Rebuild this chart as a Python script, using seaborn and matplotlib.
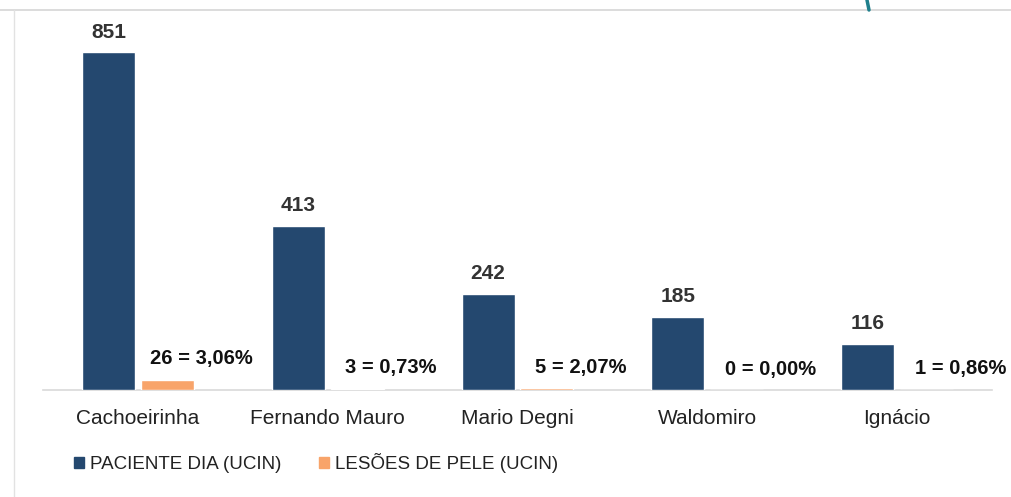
import pandas as pd
import seaborn as sns
import matplotlib.pyplot as plt
from matplotlib.lines import Line2D

# Dados do gráfico (UCIN)
unidades = ['Cachoeirinha', 'Fernando Mauro', 'Mario Degni', 'Waldomiro', 'Ignácio']
paciente_dia = [851, 413, 242, 185, 116]
lesoes_pele = [26, 3, 5, 0, 1]
series = ['PACIENTE DIA (UCIN)', 'LESÕES DE PELE (UCIN)']

azul = '#24486F'
laranja = '#F8A46A'

df = pd.DataFrame({
    'unidade': unidades * 2,
    'serie': [series[0]] * len(unidades) + [series[1]] * len(unidades),
    'valor': paciente_dia + lesoes_pele,
})

sns.set_style('white')
plt.rcParams['font.family'] = ['Liberation Sans', 'DejaVu Sans']

fig = plt.figure(figsize=(10.11, 4.97), dpi=100)
W, H = 1011, 497
ax = fig.add_axes([43 / W, 107 / H, 949 / W, 370 / H])

sns.barplot(data=df, x='unidade', y='valor', hue='serie', palette=[azul, laranja],
            width=0.62, gap=0.1, saturation=1, ax=ax, legend=False)

ax.set_xlim(-0.5, 4.5)
ax.set_ylim(0, 851 * 370 / 338)
ax.set_xlabel('')
ax.set_ylabel('')
ax.set_yticks([])
for s in ['top', 'left', 'right']:
    ax.spines[s].set_visible(False)
ax.spines['bottom'].set_color('#D9D9D9')
ax.spines['bottom'].set_linewidth(1.2)
ax.spines['bottom'].set_zorder(0.5)
ax.tick_params(axis='x', length=0, pad=14, labelsize=15, labelcolor='#222222')

# rótulos das barras azuis
for bar, v in zip(ax.containers[0], paciente_dia):
    ax.annotate(str(v), (bar.get_x() + bar.get_width() / 2, bar.get_height()),
                xytext=(0, 20), textcoords='offset pixels', ha='center', va='center',
                fontsize=15, fontweight='bold', color='#333333')

# rótulos das barras laranja: quantidade = percentual
for bar, les, pac in zip(ax.containers[1], lesoes_pele, paciente_dia):
    pct = f'{les / pac * 100:.2f}'.replace('.', ',')
    ax.annotate(f'{les} = {pct}%', (bar.get_x() + bar.get_width() / 2, bar.get_height()),
                xytext=(34, 21), textcoords='offset pixels', ha='center', va='center',
                fontsize=14.5, fontweight='bold', color='#111111')

# legenda embaixo
handles = [plt.Rectangle((0, 0), 1, 1, color=azul), plt.Rectangle((0, 0), 1, 1, color=laranja)]
fig.legend(handles, series, loc='center left', bbox_to_anchor=(57 / W, 1 - 463 / H),
           ncol=2, frameon=False, fontsize=13.5, handlelength=0.55, handleheight=0.55,
           handletextpad=0.3, columnspacing=2.0, labelcolor='#222222')

# moldura do slide
fig.add_artist(Line2D([0, 1], [1 - 10 / H, 1 - 10 / H], color='#D6D6D6', lw=1.2))
fig.add_artist(Line2D([14 / W, 14 / W], [0, 1 - 10 / H], color='#E2E2E2', lw=1.0))
fig.add_artist(Line2D([867 / W, 869 / W], [1, 1 - 10 / H], color='#1F7F8C', lw=2.5))

fig.savefig('out.png', dpi=100)
